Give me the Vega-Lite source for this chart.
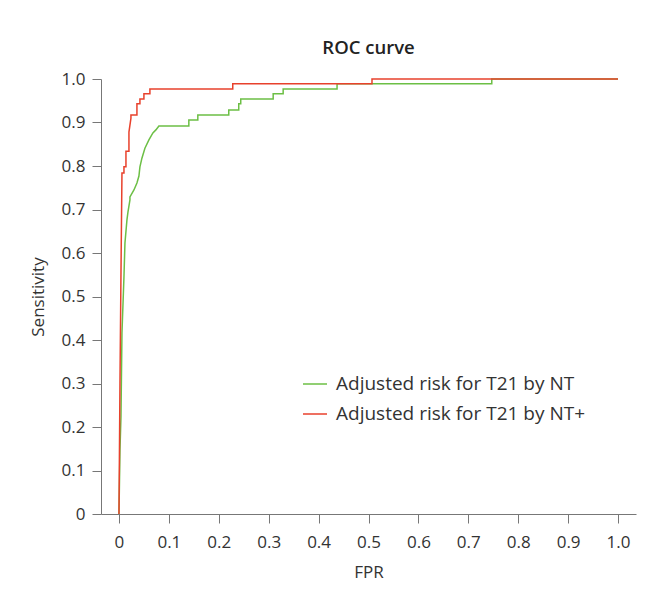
{
  "$schema": "https://vega.github.io/schema/vega-lite/v6.json",
  "autosize": {"type": "none"},
  "padding": {"left": 101, "top": 79, "right": 29, "bottom": 91},
  "width": 535,
  "height": 435,
  "background": "white",
  "title": {"text": "ROC curve", "anchor": "middle", "font": "Open Sans", "fontSize": 18.5, "fontWeight": 600, "color": "#222", "offset": 13},
  "data": {"values": [
    {"s": "Adjusted risk for T21 by NT", "i": 0, "fpr": 0, "sens": 0},
    {"s": "Adjusted risk for T21 by NT", "i": 1, "fpr": 0.002, "sens": 0.147},
    {"s": "Adjusted risk for T21 by NT", "i": 2, "fpr": 0.004, "sens": 0.223},
    {"s": "Adjusted risk for T21 by NT", "i": 3, "fpr": 0.006, "sens": 0.416},
    {"s": "Adjusted risk for T21 by NT", "i": 4, "fpr": 0.010, "sens": 0.545},
    {"s": "Adjusted risk for T21 by NT", "i": 5, "fpr": 0.012, "sens": 0.623},
    {"s": "Adjusted risk for T21 by NT", "i": 6, "fpr": 0.016, "sens": 0.676},
    {"s": "Adjusted risk for T21 by NT", "i": 7, "fpr": 0.018, "sens": 0.694},
    {"s": "Adjusted risk for T21 by NT", "i": 8, "fpr": 0.022, "sens": 0.722},
    {"s": "Adjusted risk for T21 by NT", "i": 9, "fpr": 0.022, "sens": 0.729},
    {"s": "Adjusted risk for T21 by NT", "i": 10, "fpr": 0.030, "sens": 0.745},
    {"s": "Adjusted risk for T21 by NT", "i": 11, "fpr": 0.036, "sens": 0.761},
    {"s": "Adjusted risk for T21 by NT", "i": 12, "fpr": 0.040, "sens": 0.777},
    {"s": "Adjusted risk for T21 by NT", "i": 13, "fpr": 0.042, "sens": 0.798},
    {"s": "Adjusted risk for T21 by NT", "i": 14, "fpr": 0.046, "sens": 0.818},
    {"s": "Adjusted risk for T21 by NT", "i": 15, "fpr": 0.052, "sens": 0.841},
    {"s": "Adjusted risk for T21 by NT", "i": 16, "fpr": 0.060, "sens": 0.860},
    {"s": "Adjusted risk for T21 by NT", "i": 17, "fpr": 0.068, "sens": 0.876},
    {"s": "Adjusted risk for T21 by NT", "i": 18, "fpr": 0.074, "sens": 0.883},
    {"s": "Adjusted risk for T21 by NT", "i": 19, "fpr": 0.080, "sens": 0.892},
    {"s": "Adjusted risk for T21 by NT", "i": 20, "fpr": 0.140, "sens": 0.892},
    {"s": "Adjusted risk for T21 by NT", "i": 21, "fpr": 0.140, "sens": 0.906},
    {"s": "Adjusted risk for T21 by NT", "i": 22, "fpr": 0.158, "sens": 0.906},
    {"s": "Adjusted risk for T21 by NT", "i": 23, "fpr": 0.158, "sens": 0.917},
    {"s": "Adjusted risk for T21 by NT", "i": 24, "fpr": 0.220, "sens": 0.917},
    {"s": "Adjusted risk for T21 by NT", "i": 25, "fpr": 0.220, "sens": 0.929},
    {"s": "Adjusted risk for T21 by NT", "i": 26, "fpr": 0.240, "sens": 0.929},
    {"s": "Adjusted risk for T21 by NT", "i": 27, "fpr": 0.240, "sens": 0.943},
    {"s": "Adjusted risk for T21 by NT", "i": 28, "fpr": 0.244, "sens": 0.943},
    {"s": "Adjusted risk for T21 by NT", "i": 29, "fpr": 0.244, "sens": 0.954},
    {"s": "Adjusted risk for T21 by NT", "i": 30, "fpr": 0.309, "sens": 0.954},
    {"s": "Adjusted risk for T21 by NT", "i": 31, "fpr": 0.309, "sens": 0.966},
    {"s": "Adjusted risk for T21 by NT", "i": 32, "fpr": 0.329, "sens": 0.966},
    {"s": "Adjusted risk for T21 by NT", "i": 33, "fpr": 0.329, "sens": 0.977},
    {"s": "Adjusted risk for T21 by NT", "i": 34, "fpr": 0.437, "sens": 0.977},
    {"s": "Adjusted risk for T21 by NT", "i": 35, "fpr": 0.437, "sens": 0.989},
    {"s": "Adjusted risk for T21 by NT", "i": 36, "fpr": 0.747, "sens": 0.989},
    {"s": "Adjusted risk for T21 by NT", "i": 37, "fpr": 0.747, "sens": 1.0},
    {"s": "Adjusted risk for T21 by NT", "i": 38, "fpr": 1.0, "sens": 1.0},
    {"s": "Adjusted risk for T21 by NT+", "i": 0, "fpr": 0, "sens": 0},
    {"s": "Adjusted risk for T21 by NT+", "i": 1, "fpr": 0.002, "sens": 0.3},
    {"s": "Adjusted risk for T21 by NT+", "i": 2, "fpr": 0.004, "sens": 0.55},
    {"s": "Adjusted risk for T21 by NT+", "i": 3, "fpr": 0.006, "sens": 0.784},
    {"s": "Adjusted risk for T21 by NT+", "i": 4, "fpr": 0.010, "sens": 0.784},
    {"s": "Adjusted risk for T21 by NT+", "i": 5, "fpr": 0.010, "sens": 0.798},
    {"s": "Adjusted risk for T21 by NT+", "i": 6, "fpr": 0.014, "sens": 0.798},
    {"s": "Adjusted risk for T21 by NT+", "i": 7, "fpr": 0.014, "sens": 0.834},
    {"s": "Adjusted risk for T21 by NT+", "i": 8, "fpr": 0.020, "sens": 0.834},
    {"s": "Adjusted risk for T21 by NT+", "i": 9, "fpr": 0.020, "sens": 0.878},
    {"s": "Adjusted risk for T21 by NT+", "i": 10, "fpr": 0.024, "sens": 0.910},
    {"s": "Adjusted risk for T21 by NT+", "i": 11, "fpr": 0.024, "sens": 0.917},
    {"s": "Adjusted risk for T21 by NT+", "i": 12, "fpr": 0.036, "sens": 0.917},
    {"s": "Adjusted risk for T21 by NT+", "i": 13, "fpr": 0.036, "sens": 0.943},
    {"s": "Adjusted risk for T21 by NT+", "i": 14, "fpr": 0.042, "sens": 0.943},
    {"s": "Adjusted risk for T21 by NT+", "i": 15, "fpr": 0.042, "sens": 0.954},
    {"s": "Adjusted risk for T21 by NT+", "i": 16, "fpr": 0.050, "sens": 0.954},
    {"s": "Adjusted risk for T21 by NT+", "i": 17, "fpr": 0.050, "sens": 0.966},
    {"s": "Adjusted risk for T21 by NT+", "i": 18, "fpr": 0.062, "sens": 0.966},
    {"s": "Adjusted risk for T21 by NT+", "i": 19, "fpr": 0.062, "sens": 0.977},
    {"s": "Adjusted risk for T21 by NT+", "i": 20, "fpr": 0.228, "sens": 0.977},
    {"s": "Adjusted risk for T21 by NT+", "i": 21, "fpr": 0.228, "sens": 0.989},
    {"s": "Adjusted risk for T21 by NT+", "i": 22, "fpr": 0.507, "sens": 0.989},
    {"s": "Adjusted risk for T21 by NT+", "i": 23, "fpr": 0.507, "sens": 1.0},
    {"s": "Adjusted risk for T21 by NT+", "i": 24, "fpr": 1.0, "sens": 1.0}
  ]},
  "mark": {"type": "line", "strokeWidth": 1.5, "clip": false},
  "encoding": {
    "x": {"field": "fpr", "type": "quantitative", "title": "FPR",
      "scale": {"domain": [-0.036, 1.036], "nice": false, "zero": false},
      "axis": {"values": [0, 0.1, 0.2, 0.3, 0.4, 0.5, 0.6, 0.7, 0.8, 0.9, 1.0], "labelExpr": "datum.value == 0 ? '0' : format(datum.value, '.1f')", "titlePadding": 14, "labelPadding": 11}},
    "y": {"field": "sens", "type": "quantitative", "title": "Sensitivity",
      "scale": {"domain": [0, 1], "nice": false},
      "axis": {"values": [0, 0.1, 0.2, 0.3, 0.4, 0.5, 0.6, 0.7, 0.8, 0.9, 1.0], "labelExpr": "datum.value == 0 ? '0' : format(datum.value, '.1f')", "titlePadding": 14, "labelPadding": 7}},
    "color": {"field": "s", "type": "nominal",
      "scale": {"domain": ["Adjusted risk for T21 by NT", "Adjusted risk for T21 by NT+"], "range": ["#6cbf45", "#e8412c"]},
      "legend": {"title": null, "orient": "none", "legendX": 201, "legendY": 292, "symbolType": "stroke", "symbolSize": 576, "symbolStrokeWidth": 1.5, "labelOffset": 8, "rowPadding": 7, "padding": 0, "labelLimit": 0, "labelFont": "Open Sans", "labelFontSize": 19, "labelColor": "#333"}},
    "order": {"field": "i", "type": "quantitative"}
  },
  "config": {
    "view": {"stroke": null},
    "axis": {"grid": false, "domainColor": "#777", "tickColor": "#777", "tickSize": 9, "labelFont": "Open Sans", "labelFontSize": 17, "labelColor": "#333", "titleFont": "Open Sans", "titleFontSize": 17, "titleFontWeight": "normal", "titleColor": "#333"}
  }
}
